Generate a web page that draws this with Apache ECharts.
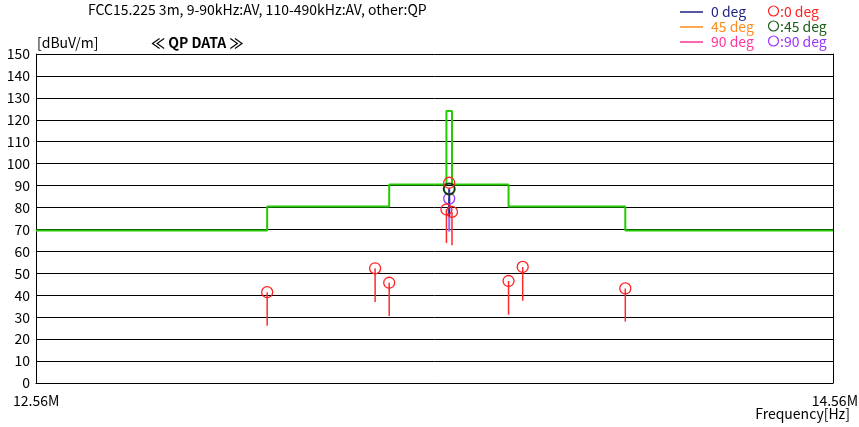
<!DOCTYPE html>
<html>
<head>
<meta charset="utf-8">
<script src="https://cdn.jsdelivr.net/npm/echarts@6/dist/echarts.min.js"></script>
<style>html,body{margin:0;padding:0;background:#fff}#c{width:859px;height:427px}</style>
</head>
<body>
<div id="c"></div>
<script>
// Limit line (FCC 15.225 at 3m), frequency in MHz
var limitFreq  = [12.56, 13.11, 13.11, 13.41, 13.41, 13.553, 13.553, 13.567, 13.567, 13.71, 13.71, 14.01, 14.01, 14.56];
var limitLevel = [69.5, 69.5, 80.5, 80.5, 90.5, 90.5, 124, 124, 90.5, 90.5, 80.5, 80.5, 69.5, 69.5];

// QP measurements, 0 deg (red circles) and their stems
var qp0Freq   = [13.11, 13.375, 13.41, 13.553, 13.56, 13.567, 13.71, 13.746, 14.01];
var qp0Level  = [41.4, 52.3, 45.7, 79.1, 91.3, 78.0, 46.5, 52.9, 43.1];
var stem0Freq = [13.11, 13.375, 13.41, 13.553, 13.567, 13.71, 13.746, 14.01];
var stem0Top  = [41.4, 52.3, 45.7, 79.1, 78.0, 46.5, 52.9, 43.1];
var stem0Bot  = [26.1, 36.9, 30.6, 63.8, 62.8, 31.1, 37.5, 28.0];

// 45 deg and 90 deg QP measurements
var qp45Freq = [13.56];
var qp45Level = [88.5];
var qp90Freq = [13.56];
var qp90Level = [84.1];

// spectrum traces at the carrier
var trace0Freq = [13.56]; var trace0Top = [88.5]; var trace0Bot = [76];
var trace90Freq = [13.56]; var trace90Top = [84.1]; var trace90Bot = [69];

var xMin = 12.56, xMax = 14.56;
var yTicks = [0, 150, 10];

function pairs(xs, ys) { return xs.map(function (x, i) { return [x, ys[i]]; }); }
function triples(xs, a, b) { return xs.map(function (x, i) { return [x, a[i], b[i]]; }); }

function stemSeries(data, color, width, z) {
  return {
    type: 'custom', z: z, silent: true,
    data: data,
    encode: { x: 0, y: [1, 2] },
    renderItem: function (params, api) {
      var p1 = api.coord([api.value(0), api.value(1)]);
      var p2 = api.coord([api.value(0), api.value(2)]);
      return { type: 'line', shape: { x1: p1[0], y1: p1[1], x2: p2[0], y2: p2[1] },
               style: { stroke: color, lineWidth: width } };
    }
  };
}
function ringSeries(data, color, width, z) {
  return {
    type: 'custom', z: z, silent: true,
    data: data,
    encode: { x: 0, y: 1 },
    renderItem: function (params, api) {
      var p = api.coord([api.value(0), api.value(1)]);
      return { type: 'circle', shape: { cx: p[0], cy: p[1], r: 5.5 },
               style: { fill: 'none', stroke: color, lineWidth: width } };
    }
  };
}

var FONT = '"Noto Sans CJK JP", "Noto Sans", sans-serif';
var chart = echarts.init(document.getElementById('c'), null, { renderer: 'canvas' });

function legendRow(y, lineColor, lineLabel, circColor, circLabel) {
  return [
    { type: 'line', shape: { x1: 680, y1: y, x2: 703, y2: y }, style: { stroke: lineColor, lineWidth: 1.5 } },
    { type: 'text', x: 711, y: y, style: { text: lineLabel, fill: lineColor, font: '14px ' + FONT, verticalAlign: 'middle' } },
    { type: 'circle', shape: { cx: 773.5, cy: y - 1, r: 5 }, style: { fill: 'none', stroke: circColor, lineWidth: 1.2 } },
    { type: 'text', x: 780, y: y, style: { text: circLabel, fill: circColor, font: '14px ' + FONT, verticalAlign: 'middle' } }
  ];
}

var graphics = [
  { type: 'text', x: 88, y: 10, style: { text: 'FCC15.225 3m, 9-90kHz:AV, 110-490kHz:AV, other:QP', fill: '#000', font: '14px ' + FONT, verticalAlign: 'middle' } },
  { type: 'text', x: 37, y: 43, style: { text: '[dBuV/m]', fill: '#000', font: '14px ' + FONT, verticalAlign: 'middle' } },
  { type: 'text', x: 151, y: 43, style: { text: '\u226A QP DATA \u226B', fill: '#000', font: 'bold 14px ' + FONT, verticalAlign: 'middle' } },
  { type: 'text', x: 13, y: 401, style: { text: '12.56M', fill: '#000', font: '14px ' + FONT, verticalAlign: 'middle' } },
  { type: 'text', x: 858, y: 401, style: { text: '14.56M', fill: '#000', font: '14px ' + FONT, verticalAlign: 'middle', align: 'right' } },
  { type: 'text', x: 850, y: 414, style: { text: 'Frequency[Hz]', fill: '#000', font: '14px ' + FONT, verticalAlign: 'middle', align: 'right' } }
].concat(
  legendRow(12, '#1f1f80', '0 deg', '#ff2020', ':0 deg'),
  legendRow(27, '#ff8c1a', '45 deg', '#1a5c1a', ':45 deg'),
  legendRow(42, '#ff3399', '90 deg', '#9933ff', ':90 deg')
);

chart.setOption({
  animation: false,
  backgroundColor: '#fff',
  grid: { left: 36, right: 26, top: 54, bottom: 44, containLabel: false },
  xAxis: {
    type: 'log', logBase: 10, min: xMin, max: xMax,
    axisLine: { show: true, lineStyle: { color: '#000', width: 1 } },
    axisTick: { show: false }, axisLabel: { show: false }, splitLine: { show: false }, minorSplitLine: { show: false }
  },
  yAxis: [{
    type: 'value', min: yTicks[0], max: yTicks[1], interval: yTicks[2],
    axisLine: { show: true, lineStyle: { color: '#000', width: 1 } },
    axisTick: { show: false },
    axisLabel: { color: '#000', fontSize: 14, fontFamily: FONT, margin: 6 },
    splitLine: { show: true, lineStyle: { color: '#000', width: 1 } }
  }, {
    type: 'value', min: yTicks[0], max: yTicks[1], interval: yTicks[2], position: 'right',
    axisLine: { show: true, lineStyle: { color: '#000', width: 1 } },
    axisTick: { show: false }, axisLabel: { show: false }, splitLine: { show: false }
  }],
  graphic: graphics,
  series: [
    { type: 'line', data: pairs(limitFreq, limitLevel), symbol: 'none', z: 3, silent: true,
      lineStyle: { color: '#22cc00', width: 2 } },
    stemSeries(triples(trace90Freq, trace90Top, trace90Bot), '#9966ff', 2, 4),
    stemSeries(triples(trace0Freq, trace0Top, trace0Bot), '#2a2a90', 2, 4),
    stemSeries(triples(stem0Freq, stem0Top, stem0Bot), '#ff2a2a', 1.5, 5),
    ringSeries(pairs(qp90Freq, qp90Level), '#9933ff', 1.3, 6),
    ringSeries(pairs(qp45Freq, qp45Level), '#0d3d0d', 2, 6),
    ringSeries(pairs(qp0Freq, qp0Level), '#ff2020', 1.3, 7)
  ]
});
</script>
</body>
</html>
